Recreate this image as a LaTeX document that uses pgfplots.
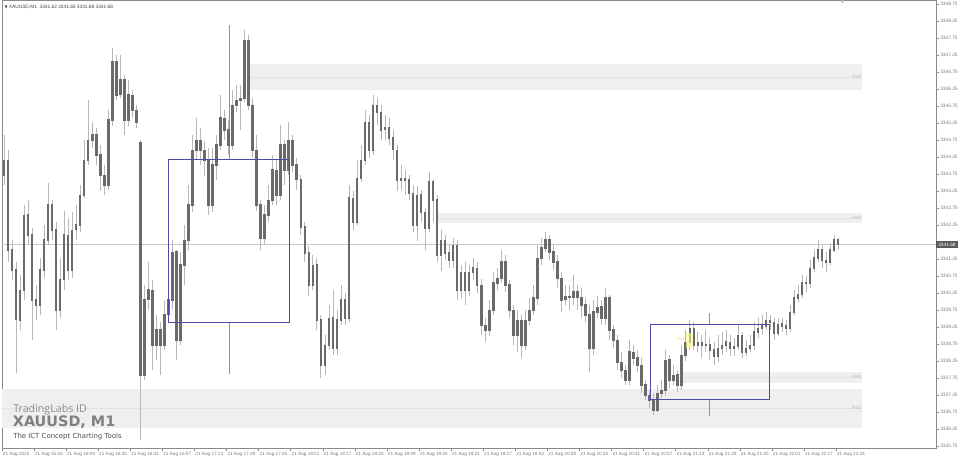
\documentclass[border=0pt]{standalone}
\usepackage{pgfplots}
\usepackage{pgfplotstable}
\pgfplotsset{compat=1.18}
\usepackage{fontspec}
\setmainfont{Liberation Sans}
\newfontfamily\dejavu{DejaVu Sans}
\newfontfamily\opensans{Open Sans}
\definecolor{bodygray}{HTML}{6A6A6A}
\definecolor{wickgray}{HTML}{B8B8B8}
\definecolor{bandgray}{HTML}{EFEFEF}
\definecolor{dotgray}{HTML}{D4D4D4}
\definecolor{ictblue}{HTML}{4B4BAA}
\definecolor{ictlight}{HTML}{8C8CCC}
\definecolor{axgray}{HTML}{8A8A8A}
\definecolor{lblgray}{HTML}{7A7A7A}
\definecolor{pricegray}{HTML}{C8C8C8}
\definecolor{fvggray}{HTML}{B0B0B0}
\definecolor{boxgray}{HTML}{5A5A5A}

\pgfplotstableread{
m o h l c
1 3343.72 3344.90 3343.43 3344.16
3 3344.16 3344.46 3341.17 3341.52
5 3341.52 3341.81 3340.64 3340.93
7 3340.93 3341.17 3337.90 3339.46
9 3339.46 3340.78 3339.17 3340.34
11 3340.34 3342.84 3340.05 3342.55
13 3342.55 3342.99 3341.66 3341.96
15 3341.96 3342.16 3338.87 3340.05
17 3340.05 3340.49 3339.46 3339.90
19 3339.90 3341.28 3339.61 3340.93
21 3340.93 3342.25 3340.69 3341.81
23 3341.81 3343.49 3341.66 3342.84
25 3342.84 3342.99 3341.81 3342.11
27 3342.11 3342.34 3339.17 3339.75
29 3339.75 3341.28 3339.52 3340.64
31 3340.64 3342.69 3340.34 3341.96
33 3341.96 3342.46 3340.64 3340.93
35 3340.93 3342.63 3340.69 3342.11
37 3342.11 3342.84 3341.81 3342.25
39 3342.25 3343.43 3342.05 3343.13
41 3343.13 3344.75 3343.05 3344.16
43 3344.16 3345.93 3344.02 3344.75
45 3344.75 3345.28 3344.52 3344.90
47 3344.90 3345.11 3344.02 3344.31
49 3344.31 3344.61 3343.28 3343.72
51 3343.72 3344.02 3343.13 3343.43
53 3343.43 3345.63 3343.28 3345.34
55 3345.34 3347.46 3345.19 3347.05
57 3347.05 3347.25 3345.93 3346.08
59 3346.08 3347.25 3345.99 3346.52
61 3346.52 3346.66 3344.90 3345.34
63 3345.34 3346.52 3345.19 3346.08
65 3346.08 3346.22 3345.40 3345.63
67 3345.63 3345.78 3345.11 3345.28
69 3344.69 3344.75 3335.93 3337.84
71 3337.84 3340.49 3337.69 3340.05
73 3340.05 3341.17 3339.75 3340.34
75 3340.34 3340.64 3337.99 3338.72
77 3338.72 3339.61 3338.28 3339.17
79 3339.17 3339.40 3337.84 3338.72
81 3338.72 3340.05 3338.58 3339.61
83 3339.61 3340.40 3339.46 3340.05
85 3340.05 3341.81 3339.75 3341.46
87 3341.46 3341.52 3338.28 3338.87
89 3338.87 3341.46 3338.72 3341.08
91 3341.08 3342.25 3340.49 3341.81
93 3341.81 3343.43 3341.52 3342.84
95 3342.84 3344.90 3342.63 3344.46
97 3344.46 3345.40 3344.16 3344.75
99 3344.75 3345.11 3344.02 3344.46
101 3344.46 3344.75 3343.72 3344.16
103 3344.16 3344.52 3342.55 3342.84
105 3342.84 3344.52 3342.63 3344.02
107 3344.02 3344.90 3343.58 3344.61
109 3344.61 3346.08 3344.46 3345.40
111 3345.40 3345.63 3344.75 3345.05
113 3345.05 3345.34 3344.31 3344.61
115 3344.61 3346.22 3344.46 3345.78
117 3345.78 3346.37 3345.58 3345.93
119 3345.93 3346.37 3345.05 3345.99
121 3345.99 3347.99 3345.87 3347.69
123 3347.69 3347.84 3345.63 3345.78
125 3345.78 3345.99 3344.22 3344.46
127 3344.46 3344.90 3342.69 3342.84
129 3342.84 3342.99 3341.52 3341.87
131 3341.87 3342.84 3341.66 3342.55
133 3342.55 3343.43 3342.34 3342.99
135 3342.99 3344.31 3342.84 3343.87
137 3343.87 3344.16 3342.84 3343.13
139 3343.13 3345.19 3342.99 3344.61
141 3344.61 3344.75 3343.43 3343.87
143 3343.87 3345.28 3343.72 3344.75
145 3344.75 3344.90 3343.81 3344.02
147 3344.02 3344.22 3343.28 3343.58
149 3343.58 3343.72 3341.96 3342.20
151 3342.20 3342.34 3341.17 3341.43
153 3341.43 3341.66 3340.19 3340.49
155 3340.49 3341.37 3340.34 3341.08
157 3341.08 3341.28 3339.17 3339.46
159 3339.46 3339.61 3337.75 3338.13
161 3338.13 3339.02 3337.84 3338.72
163 3338.72 3339.90 3338.58 3339.52
165 3339.52 3340.34 3338.43 3338.63
167 3338.63 3339.75 3338.43 3339.46
169 3339.46 3340.49 3339.31 3340.05
171 3340.05 3340.28 3339.31 3339.52
173 3339.52 3343.43 3339.40 3343.05
175 3343.05 3343.28 3342.11 3342.34
177 3342.34 3344.16 3342.25 3343.63
179 3343.63 3344.61 3343.52 3344.16
181 3344.16 3345.63 3344.02 3345.28
183 3345.28 3345.49 3344.22 3344.46
185 3344.46 3346.08 3344.31 3345.78
187 3345.78 3345.99 3345.19 3345.58
189 3345.58 3345.78 3344.75 3345.05
191 3345.05 3345.49 3344.75 3345.11
193 3345.11 3345.40 3344.61 3344.81
195 3344.81 3345.05 3344.16 3344.46
197 3344.46 3344.61 3343.28 3343.58
199 3343.58 3344.02 3343.28 3343.63
201 3343.63 3343.87 3343.13 3343.58
203 3343.58 3343.72 3342.99 3343.19
205 3343.19 3343.43 3342.05 3342.25
207 3342.25 3343.43 3341.81 3343.13
209 3343.13 3343.28 3342.34 3342.63
211 3342.63 3342.75 3341.52 3342.16
213 3342.16 3343.81 3342.05 3343.52
215 3343.52 3343.63 3342.34 3342.99
217 3342.99 3343.13 3341.17 3341.37
219 3341.37 3342.11 3340.93 3341.81
221 3341.81 3341.96 3341.22 3341.43
223 3341.43 3341.66 3340.99 3341.22
225 3341.22 3341.87 3340.99 3341.66
227 3341.66 3341.81 3340.05 3340.34
229 3340.34 3341.08 3340.11 3340.87
231 3340.87 3341.17 3339.90 3340.34
233 3340.34 3341.08 3340.19 3340.87
235 3340.87 3341.28 3340.64 3340.99
237 3340.99 3341.17 3340.28 3340.49
239 3340.49 3340.69 3339.02 3339.31
241 3339.31 3339.52 3338.81 3339.17
243 3339.17 3340.05 3338.99 3339.75
245 3339.75 3340.87 3339.61 3340.55
247 3340.55 3340.99 3340.34 3340.69
249 3340.69 3341.52 3340.55 3341.17
251 3341.17 3341.37 3340.28 3340.49
253 3340.49 3340.64 3339.52 3339.75
255 3339.75 3339.90 3338.72 3339.02
257 3339.02 3339.75 3338.52 3339.46
259 3339.46 3339.61 3338.34 3338.72
261 3338.72 3339.75 3338.58 3339.46
263 3339.46 3340.11 3339.31 3339.75
265 3339.75 3340.49 3339.61 3340.11
267 3340.11 3341.66 3339.90 3341.28
269 3341.28 3341.87 3341.08 3341.58
271 3341.58 3342.05 3341.46 3341.81
273 3341.81 3341.96 3341.22 3341.46
275 3341.46 3341.66 3340.93 3341.17
277 3341.17 3341.37 3340.40 3340.69
279 3340.69 3340.87 3339.69 3340.05
281 3340.05 3340.49 3339.90 3340.13
283 3340.13 3340.49 3339.75 3340.11
285 3340.11 3340.78 3339.90 3340.28
287 3340.28 3340.49 3339.75 3340.13
289 3340.13 3340.40 3339.52 3339.90
291 3339.90 3340.11 3339.40 3339.61
293 3339.61 3339.90 3337.93 3338.63
295 3338.63 3340.05 3338.43 3339.69
297 3339.69 3340.19 3339.52 3339.84
299 3339.84 3340.05 3339.31 3339.52
301 3339.52 3340.40 3339.31 3340.11
303 3340.11 3340.19 3338.87 3339.17
305 3339.17 3339.31 3338.63 3338.87
307 3338.87 3339.02 3337.99 3338.22
309 3338.22 3338.52 3337.75 3337.99
311 3337.99 3338.13 3337.55 3337.69
313 3337.69 3338.87 3337.55 3338.52
315 3338.52 3338.72 3338.13 3338.34
317 3338.34 3338.58 3337.93 3338.13
319 3338.13 3338.34 3337.31 3337.55
321 3337.55 3337.69 3337.11 3337.25
323 3337.25 3337.40 3336.87 3337.11
325 3337.11 3337.31 3336.67 3336.81
327 3336.81 3337.55 3336.75 3337.31
329 3337.31 3337.69 3337.16 3337.40
331 3337.40 3338.58 3337.25 3338.28
333 3338.28 3338.43 3337.46 3337.69
335 3337.69 3338.13 3337.55 3337.84
337 3337.84 3337.99 3337.34 3337.55
339 3337.55 3338.72 3337.40 3338.43
341 3338.43 3339.17 3338.28 3338.81
343 3338.81 3339.46 3338.58 3339.22
345 3339.22 3339.40 3338.58 3338.72
347 3338.72 3339.11 3338.52 3338.78
349 3338.78 3339.02 3338.34 3338.72
351 3338.72 3339.17 3338.52 3338.75
353 3338.75 3338.93 3338.28 3338.58
355 3338.58 3338.81 3338.13 3338.40
357 3338.40 3339.02 3338.22 3338.63
359 3338.63 3339.11 3338.43 3338.72
361 3338.72 3339.17 3338.52 3338.81
363 3338.81 3339.02 3338.40 3338.63
365 3338.63 3338.93 3338.40 3338.69
367 3338.69 3339.31 3338.58 3338.99
369 3338.99 3339.11 3338.34 3338.52
371 3338.52 3338.87 3338.40 3338.63
373 3338.63 3339.02 3338.52 3338.72
375 3338.72 3339.40 3338.58 3339.11
377 3339.11 3339.52 3338.93 3339.22
379 3339.22 3339.61 3339.02 3339.28
381 3339.28 3339.69 3339.17 3339.46
383 3339.46 3339.61 3339.17 3339.40
385 3339.40 3339.52 3338.87 3339.08
387 3339.08 3339.52 3338.99 3339.34
389 3339.34 3339.52 3339.11 3339.28
391 3339.28 3339.46 3339.02 3339.22
393 3339.22 3339.90 3339.11 3339.69
395 3339.69 3340.34 3339.61 3340.11
397 3340.11 3340.49 3339.99 3340.22
399 3340.22 3340.78 3340.11 3340.55
401 3340.55 3340.75 3340.28 3340.55
403 3340.55 3341.22 3340.40 3340.99
405 3340.99 3341.52 3340.87 3341.28
407 3341.28 3341.81 3341.17 3341.52
409 3341.52 3341.66 3340.99 3341.22
411 3341.22 3341.46 3340.87 3341.17
413 3341.17 3341.75 3341.08 3341.52
415 3341.52 3341.96 3341.46 3341.81
417 3341.81 3341.87 3341.52 3341.68
}\candles

\begin{document}
\begin{tikzpicture}[x=1pt,y=1pt]
\useasboundingbox (0,0) rectangle (720,345);
\begin{axis}[
  at={(1.5pt,9pt)}, anchor=south west,
  width=700.5pt, height=336pt, scale only axis,
  xmin=0, xmax=465.8, ymin=3335.692, ymax=3348.868,
  clip mode=individual,
  axis line style={draw=axgray, line width=0.6pt},
  tick style={draw=axgray, line width=0.4pt},
  major tick length=2.2pt,
  tick align=outside,
  xtick pos=lower, ytick pos=upper, yticklabel pos=upper,
  xtick={0,16,32,48,64,80,96,112,128,144,160,176,192,208,224,240,256,272,288,304,320,336,352,368,384,400,416},
  xticklabels={{21 Aug 2025},{21 Aug 15:53},{21 Aug 16:09},{21 Aug 16:25},{21 Aug 16:41},{21 Aug 16:57},{21 Aug 17:13},{21 Aug 17:29},{21 Aug 17:45},{21 Aug 18:01},{21 Aug 18:17},{21 Aug 18:33},{21 Aug 18:49},{21 Aug 19:05},{21 Aug 19:21},{21 Aug 19:37},{21 Aug 19:53},{21 Aug 20:09},{21 Aug 20:25},{21 Aug 20:41},{21 Aug 20:57},{21 Aug 21:13},{21 Aug 21:29},{21 Aug 21:45},{21 Aug 22:01},{21 Aug 22:17},{21 Aug 22:33}},
  xticklabel style={anchor=north west, font=\fontsize{3.5}{4}\selectfont, text=lblgray, inner sep=0.8pt, xshift=-0.3pt},
  ytick={3335.75,3336.25,3336.75,3337.25,3337.75,3338.25,3338.75,3339.25,3339.75,3340.25,3340.75,3341.25,3341.75,3342.25,3342.75,3343.25,3343.75,3344.25,3344.75,3345.25,3345.75,3346.25,3346.75,3347.25,3347.75,3348.25,3348.75},
  yticklabels={3335.75,3336.25,3336.75,3337.25,3337.75,3338.25,3338.75,3339.25,3339.75,3340.25,3340.75,3341.25,{},3342.25,3342.75,3343.25,3343.75,3344.25,3344.75,3345.25,3345.75,3346.25,3346.75,3347.25,3347.75,3348.25,3348.75},
  yticklabel style={anchor=west, font=\fontsize{3.6}{4}\selectfont, text=lblgray, inner sep=0.8pt},
]
% FVG zones
\addplot[fill=bandgray, draw=none, forget plot] coordinates {(122.7,3346.99) (428.9,3346.99) (428.9,3346.22) (122.7,3346.22)};
\addplot[fill=bandgray, draw=none, forget plot] coordinates {(216.5,3342.60) (428.9,3342.60) (428.9,3342.31) (216.5,3342.31)};
\addplot[fill=bandgray, draw=none, forget plot] coordinates {(338.2,3337.93) (428.9,3337.93) (428.9,3337.61) (338.2,3337.61)};
\addplot[fill=bandgray, draw=none, forget plot] coordinates {(0,3337.43) (428.9,3337.43) (428.9,3336.28) (0,3336.28)};
\addplot[dotgray, densely dotted, line width=0.5pt, forget plot] coordinates {(122.7,3346.60) (428.9,3346.60)};
\addplot[dotgray, densely dotted, line width=0.5pt, forget plot] coordinates {(216.5,3342.46) (428.9,3342.46)};
\addplot[dotgray, densely dotted, line width=0.5pt, forget plot] coordinates {(338.2,3337.77) (428.9,3337.77)};
\addplot[dotgray, densely dotted, line width=0.5pt, forget plot] coordinates {(0,3336.87) (428.9,3336.87)};
% current price line
\addplot[pricegray, line width=0.5pt, forget plot] coordinates {(0,3341.68) (465.8,3341.68)};
% ICT range verticals
\addplot[ictlight, line width=0.45pt, forget plot] coordinates {(113.2,3348.13) (113.2,3344.19)};
\addplot[ictlight, line width=0.45pt, forget plot] coordinates {(113.2,3339.40) (113.2,3337.87)};
\addplot[ictlight, line width=0.45pt, forget plot] coordinates {(352.6,3339.66) (352.6,3339.34)};
\addplot[ictlight, line width=0.45pt, forget plot] coordinates {(352.6,3337.11) (352.6,3336.64)};
% wicks
\addplot[draw=none, mark=none, forget plot,
  error bars/.cd, y dir=both, y explicit, error mark=none,
  error bar style={line width=0.5pt, draw=wickgray}]
  table[x=m, y expr={(\thisrow{h}+\thisrow{l})/2}, y error expr={(\thisrow{h}-\thisrow{l})/2}] {\candles};
% bodies
\addplot[draw=none, mark=none, forget plot,
  error bars/.cd, y dir=both, y explicit, error mark=none,
  error bar style={line width=1.9pt, draw=bodygray}]
  table[x=m, y expr={(\thisrow{o}+\thisrow{c})/2}, y error expr={abs(\thisrow{o}-\thisrow{c})/2+0.02}] {\candles};
% yellow FVG candle highlight
\addplot[fill=yellow!45, draw=none, fill opacity=0.6, forget plot] coordinates {(341.2,3339.08) (344.6,3339.08) (344.6,3338.63) (341.2,3338.63)};
% ICT ranges
\addplot[ictblue, line width=0.55pt, forget plot] coordinates {(82.8,3344.19) (143.1,3344.19) (143.1,3339.40) (82.8,3339.40) (82.8,3344.19)};
\addplot[ictblue, line width=0.55pt, forget plot] coordinates {(323.2,3339.34) (382.5,3339.34) (382.5,3337.11) (323.2,3337.11) (323.2,3339.34)};
% labels
\node[anchor=east, font=\fontsize{3.4}{4}\selectfont, text=fvggray, inner sep=0.5pt] at (axis cs:428.9,3346.60) {FVG};
\node[anchor=east, font=\fontsize{3.4}{4}\selectfont, text=fvggray, inner sep=0.5pt] at (axis cs:428.9,3342.46) {FVG};
\node[anchor=east, font=\fontsize{3.4}{4}\selectfont, text=fvggray, inner sep=0.5pt] at (axis cs:428.9,3337.77) {FVG};
\node[anchor=east, font=\fontsize{3.4}{4}\selectfont, text=fvggray, inner sep=0.5pt] at (axis cs:428.9,3336.87) {FVG};
\node[anchor=east, font=\fontsize{2.6}{3}\selectfont, text=yellow!60!gray, inner sep=0.3pt] at (axis cs:341.2,3338.90) {FVG};
\node[anchor=west, fill=boxgray, text=white, font=\fontsize{3.6}{4}\selectfont, inner xsep=1.5pt, inner ysep=1.2pt] at (axis cs:465.8,3341.68) {3341.68};
\end{axis}
% header and watermark
\node[anchor=west, inner sep=0pt, text=black!75, font=\fontsize{3.6}{4}\selectfont] at (3.2,340) {{\dejavu\fontsize{3}{3}\selectfont ▼}\ XAUUSD,M1\ \ 3341.62 3341.65 3341.68 3341.68};
\node[anchor=north, inner sep=0pt, text=black!30, font=\dejavu\fontsize{4}{4}\selectfont] at (632,345) {▼};
\node[anchor=base west, inner sep=0pt, text=black!45] at (9.75,35.25) {\opensans\fontsize{8}{9}\selectfont TradingLabs ID};
\node[anchor=base west, inner sep=0pt, text=black!50] at (9.5,24.75) {\dejavu\bfseries\fontsize{10.8}{12}\selectfont XAUUSD, M1};
\node[anchor=base west, inner sep=0pt, text=black!70] at (9.75,15.75) {\dejavu\fontsize{5.2}{6}\selectfont The ICT Concept Charting Tools};
\end{tikzpicture}
\end{document}
